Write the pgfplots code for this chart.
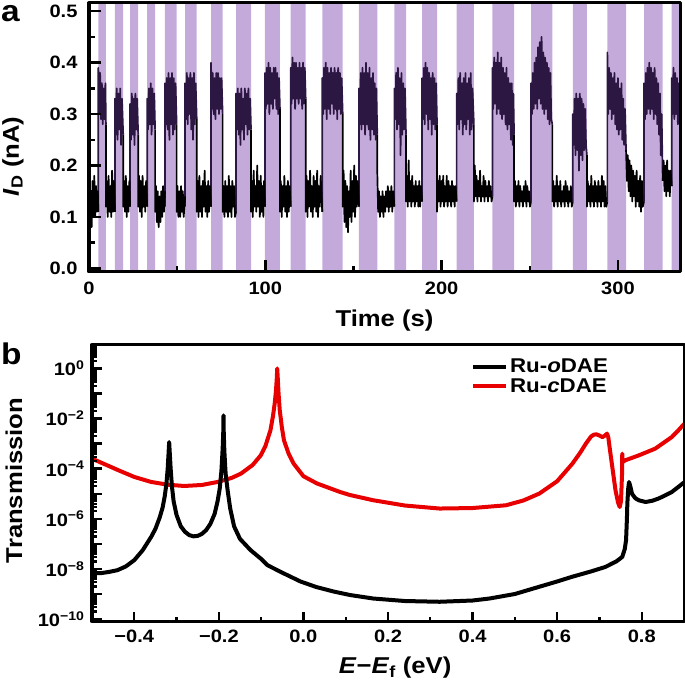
\documentclass[border=0pt]{standalone}
\usepackage{fontspec}
\setmainfont{Liberation Sans}[FakeStretch=1.12]
\usepackage{pgfplots}
\pgfplotsset{compat=1.18}

\definecolor{lav}{RGB}{196,170,218}
\definecolor{plum}{RGB}{44,22,66}
\definecolor{rred}{RGB}{232,0,0}

% minor log ticks 2..9 in every decade
\def\logminor{}
\foreach \e in {-11,...,0}{\foreach \m in {2,...,9}{\xdef\logminor{\logminor\m e\e,}}}
\xdef\logminor{\logminor 1e-11}

\pgfplotsset{
  panel/.style={
    scale only axis, anchor=south west, axis on top,
    axis line style={line width=3bp},
    tick align=inside, xtick pos=bottom, ytick pos=left,
    major tick length=12bp, minor tick length=6bp,
    every tick/.style={line width=2.4bp, black},
    tick label style={font=\fontsize{18}{20}\selectfont\bfseries},
    label style={font=\fontsize{23}{26}\selectfont\bfseries},
  }
}

\begin{document}
\begin{tikzpicture}
\useasboundingbox (0,0) rectangle (685bp,691bp);

% ---------------- panel a
\begin{axis}[panel, at={(89bp,419bp)}, width=591bp, height=269bp,
  xmin=0, xmax=335.2, ymin=-0.007, ymax=0.516,
  xtick={0,100,200,300}, xticklabels={0,100,200,300},
  minor xtick={50,150,250},
  ytick={0,0.1,0.2,0.3,0.4,0.5}, yticklabels={0.0,0.1,0.2,0.3,0.4,0.5},
  minor ytick={0.05,0.15,0.25,0.35,0.45},
  xticklabel style={yshift=-6bp}, yticklabel style={xshift=-8bp},
  xlabel={Time (s)}, ylabel={\textit{I}\textsubscript{D} (nA)},
  xlabel style={at={(axis description cs:0.5,-0.182)}, anchor=center},
  ylabel style={at={(axis description cs:-0.1286,0.43)}, anchor=center},
  unbounded coords=jump, line join=round]
% light-on bands
\addplot[fill=lav, draw=none] coordinates {
(5.3,-1)(5.3,1)(9.6,1)(9.6,-1)(14.7,-1)(14.7,1)(19.4,1)(19.4,-1)
(23.3,-1)(23.3,1)(27.9,1)(27.9,-1)(33.0,-1)(33.0,1)(37.5,1)(37.5,-1)
(43.1,-1)(43.1,1)(49.7,1)(49.7,-1)(54.5,-1)(54.5,1)(61.1,1)(61.1,-1)
(69.2,-1)(69.2,1)(75.8,1)(75.8,-1)(83.4,-1)(83.4,1)(91.9,1)(91.9,-1)
(99.8,-1)(99.8,1)(108.3,1)(108.3,-1)(114.4,-1)(114.4,1)(122.9,1)(122.9,-1)
(132.3,-1)(132.3,1)(143.9,1)(143.9,-1)(153.1,-1)(153.1,1)(163.5,1)(163.5,-1)
(173.2,-1)(173.2,1)(179.8,1)(179.8,-1)(188.9,-1)(188.9,1)(197.4,1)(197.4,-1)
(208.5,-1)(208.5,1)(218.3,1)(218.3,-1)(228.8,-1)(228.8,1)(241.1,1)(241.1,-1)
(250.7,-1)(250.7,1)(262.8,1)(262.8,-1)(274.4,-1)(274.4,1)(282.4,1)(282.4,-1)
(294.0,-1)(294.0,1)(304.6,1)(304.6,-1)(314.8,-1)(314.8,1)(325.4,1)(325.4,-1)
(330.5,-1)(330.5,1)(340,1)(340,-1)};
% high-current state
\addplot[plum, line width=1.7bp] coordinates {
(5.3,0.11)(5.3,0.39)(5.8,0.30)(6.3,0.38)(6.8,0.29)(7.3,0.36)(7.8,0.28)(8.3,0.35)(8.8,0.29)(9.3,0.36)(9.6,0.28)(9.7,nan)
(14.7,0.11)(14.7,0.33)(15.2,0.26)(15.7,0.35)(16.2,0.25)(16.7,0.34)(17.2,0.27)(17.7,0.35)(18.2,0.24)(18.7,0.33)(19.4,0.26)(19.5,nan)
(23.3,0.12)(23.3,0.32)(23.8,0.25)(24.3,0.34)(24.8,0.26)(25.3,0.33)(25.8,0.24)(26.3,0.34)(26.8,0.27)(27.3,0.33)(27.9,0.26)(28.0,nan)
(33.0,0.12)(33.0,0.33)(33.5,0.27)(34.0,0.35)(34.5,0.28)(35.0,0.36)(35.5,0.26)(36.0,0.35)(36.5,0.28)(37.0,0.34)(37.5,0.27)(37.6,nan)
(43.1,0.12)(43.1,0.36)(43.6,0.28)(44.1,0.37)(44.6,0.27)(45.1,0.38)(45.6,0.25)(46.1,0.37)(46.6,0.28)(47.1,0.38)(47.6,0.26)(48.1,0.37)(48.6,0.27)(49.1,0.36)(49.7,0.28)(49.8,nan)
(54.5,0.12)(54.5,0.36)(55.0,0.29)(55.5,0.38)(56.0,0.28)(56.5,0.37)(57.0,0.30)(57.5,0.38)(58.0,0.27)(58.5,0.37)(59.0,0.25)(59.5,0.38)(60.0,0.28)(60.5,0.36)(61.1,0.29)(61.2,nan)
(69.2,0.12)(69.2,0.40)(69.7,0.31)(70.2,0.38)(70.7,0.30)(71.2,0.37)(71.7,0.29)(72.2,0.38)(72.7,0.31)(73.2,0.38)(73.7,0.30)(74.2,0.37)(74.7,0.31)(75.2,0.37)(75.8,0.30)(75.9,nan)
(83.4,0.11)(83.4,0.34)(83.9,0.27)(84.4,0.35)(84.9,0.26)(85.4,0.34)(85.9,0.24)(86.4,0.35)(86.9,0.27)(87.4,0.33)(87.9,0.25)(88.4,0.35)(88.9,0.28)(89.4,0.34)(89.9,0.26)(90.4,0.35)(90.9,0.27)(91.4,0.33)(91.9,0.27)(92.0,nan)
(99.8,0.12)(99.8,0.38)(100.3,0.31)(100.8,0.39)(101.3,0.32)(101.8,0.40)(102.3,0.30)(102.8,0.39)(103.3,0.32)(103.8,0.38)(104.3,0.31)(104.8,0.39)(105.3,0.33)(105.8,0.39)(106.3,0.31)(106.8,0.38)(107.3,0.30)(107.8,0.37)(108.3,0.31)(108.4,nan)
(114.4,0.12)(114.4,0.39)(114.9,0.32)(115.4,0.41)(115.9,0.33)(116.4,0.40)(116.9,0.31)(117.4,0.40)(117.9,0.33)(118.4,0.39)(118.9,0.32)(119.4,0.40)(119.9,0.33)(120.4,0.39)(120.9,0.31)(121.4,0.40)(121.9,0.32)(122.4,0.39)(122.9,0.33)(123.0,nan)
(132.3,0.11)(132.3,0.37)(132.8,0.30)(133.3,0.39)(133.8,0.31)(134.3,0.40)(134.8,0.29)(135.3,0.39)(135.8,0.31)(136.3,0.38)(136.8,0.30)(137.3,0.39)(137.8,0.32)(138.3,0.38)(138.8,0.30)(139.3,0.39)(139.8,0.31)(140.3,0.38)(140.8,0.29)(141.3,0.39)(141.8,0.31)(142.3,0.38)(142.8,0.30)(143.3,0.37)(143.9,0.30)(144.0,nan)
(153.1,0.12)(153.1,0.35)(153.6,0.28)(154.1,0.38)(154.6,0.27)(155.1,0.39)(155.6,0.28)(156.1,0.38)(156.6,0.26)(157.1,0.40)(157.6,0.28)(158.1,0.38)(158.6,0.27)(159.1,0.39)(159.6,0.25)(160.1,0.37)(160.6,0.27)(161.1,0.38)(161.6,0.26)(162.1,0.36)(162.6,0.25)(163.0,0.35)(163.5,0.26)(163.6,nan)
(173.2,0.12)(173.2,0.35)(173.7,0.29)(174.2,0.38)(174.7,0.27)(175.2,0.39)(175.7,0.28)(176.2,0.37)(176.7,0.22)(177.2,0.38)(177.7,0.26)(178.2,0.36)(178.7,0.27)(179.2,0.35)(179.8,0.26)(179.9,nan)
(188.9,0.13)(188.9,0.37)(189.4,0.29)(189.9,0.39)(190.4,0.28)(190.9,0.40)(191.4,0.30)(191.9,0.39)(192.4,0.27)(192.9,0.38)(193.4,0.29)(193.9,0.37)(194.4,0.26)(194.9,0.38)(195.4,0.28)(195.9,0.37)(196.4,0.27)(196.9,0.36)(197.4,0.28)(197.5,nan)
(208.5,0.13)(208.5,0.34)(209.0,0.28)(209.5,0.37)(210.0,0.27)(210.5,0.38)(211.0,0.29)(211.5,0.36)(212.0,0.26)(212.5,0.37)(213.0,0.28)(213.5,0.38)(214.0,0.27)(214.5,0.36)(215.0,0.29)(215.5,0.37)(216.0,0.26)(216.5,0.38)(217.0,0.27)(217.5,0.35)(218.3,0.28)(218.4,nan)
(228.8,0.14)(228.8,0.39)(229.3,0.31)(229.8,0.41)(230.3,0.32)(230.8,0.40)(231.3,0.30)(231.8,0.42)(232.3,0.31)(232.8,0.40)(233.3,0.30)(233.8,0.41)(234.3,0.29)(234.8,0.39)(235.3,0.30)(235.8,0.38)(236.3,0.28)(236.8,0.39)(237.3,0.27)(237.8,0.37)(238.3,0.28)(238.8,0.36)(239.3,0.25)(239.8,0.36)(240.3,0.24)(240.7,0.34)(241.1,0.26)(241.2,nan)
(250.7,0.13)(250.7,0.36)(251.2,0.30)(251.7,0.38)(252.2,0.31)(252.7,0.40)(253.2,0.32)(253.7,0.41)(254.2,0.31)(254.7,0.43)(255.2,0.33)(255.7,0.44)(256.2,0.32)(256.7,0.45)(257.2,0.31)(257.7,0.42)(258.2,0.30)(258.7,0.41)(259.2,0.31)(259.7,0.40)(260.2,0.29)(260.7,0.39)(261.2,0.28)(261.7,0.38)(262.2,0.29)(262.8,0.28)(262.9,nan)
(274.4,0.13)(274.4,0.30)(274.9,0.24)(275.4,0.33)(275.9,0.22)(276.4,0.34)(276.9,0.23)(277.4,0.33)(277.9,0.19)(278.4,0.34)(278.9,0.22)(279.4,0.33)(279.9,0.21)(280.4,0.32)(280.9,0.23)(281.4,0.31)(281.9,0.24)(282.4,0.22)(282.5,nan)
(294.0,0.13)(294.0,0.42)(294.5,0.30)(295.0,0.39)(295.5,0.31)(296.0,0.38)(296.5,0.29)(297.0,0.37)(297.5,0.30)(298.0,0.38)(298.5,0.28)(299.0,0.36)(299.5,0.27)(300.0,0.37)(300.5,0.26)(301.0,0.35)(301.5,0.27)(302.0,0.36)(302.5,0.25)(303.0,0.33)(303.5,0.24)(304.0,0.31)(304.6,0.23)(304.7,nan)
(314.8,0.13)(314.8,0.36)(315.3,0.29)(315.8,0.38)(316.3,0.30)(316.8,0.39)(317.3,0.31)(317.8,0.40)(318.3,0.30)(318.8,0.39)(319.3,0.31)(319.8,0.38)(320.3,0.29)(320.8,0.39)(321.3,0.30)(321.8,0.37)(322.3,0.28)(322.8,0.36)(323.3,0.26)(323.8,0.34)(324.3,0.22)(324.8,0.30)(325.4,0.17)(325.5,nan)
(330.5,0.16)(330.5,0.37)(331.0,0.30)(331.5,0.39)(332.0,0.29)(332.5,0.38)(333.0,0.30)(333.5,0.37)(334.0,0.28)(334.5,0.36)(335.0,0.30)};
% low-current state
\addplot[black, line width=1.7bp] coordinates {
(0.0,0.12)(0.5,0.06)(1.0,0.15)(1.5,0.08)(2.0,0.17)(2.5,0.10)(3.0,0.18)(3.5,0.10)(4.0,0.16)(4.5,0.11)(5.0,0.15)(5.3,0.11)(5.4,nan)
(9.6,0.28)(9.6,0.12)(10.1,0.17)(10.6,0.10)(11.1,0.18)(11.6,0.11)(12.1,0.16)(12.6,0.10)(13.1,0.19)(13.6,0.11)(14.1,0.17)(14.7,0.11)(14.8,nan)
(19.4,0.26)(19.4,0.12)(19.9,0.17)(20.4,0.11)(20.9,0.18)(21.4,0.10)(21.9,0.16)(22.4,0.11)(22.9,0.17)(23.3,0.12)(23.4,nan)
(27.9,0.26)(27.9,0.12)(28.4,0.18)(28.9,0.11)(29.4,0.17)(29.9,0.10)(30.4,0.18)(30.9,0.12)(31.4,0.16)(31.9,0.11)(32.4,0.17)(33.0,0.12)(33.1,nan)
(37.5,0.27)(37.5,0.11)(38.0,0.16)(38.5,0.09)(39.0,0.15)(39.5,0.08)(40.0,0.14)(40.5,0.09)(41.0,0.15)(41.5,0.10)(42.0,0.16)(42.5,0.11)(43.1,0.15)(43.2,nan)
(49.7,0.28)(49.7,0.11)(50.2,0.16)(50.7,0.10)(51.2,0.15)(51.7,0.10)(52.2,0.16)(52.7,0.11)(53.2,0.15)(53.7,0.10)(54.5,0.14)(54.6,nan)
(61.1,0.29)(61.1,0.11)(61.6,0.17)(62.1,0.10)(62.6,0.18)(63.1,0.11)(63.6,0.16)(64.1,0.10)(64.6,0.17)(65.1,0.12)(65.6,0.19)(66.1,0.11)(66.6,0.16)(67.1,0.10)(67.6,0.17)(68.1,0.11)(68.6,0.16)(69.2,0.12)(69.3,nan)
(75.8,0.30)(75.8,0.11)(76.3,0.16)(76.8,0.10)(77.3,0.17)(77.8,0.11)(78.3,0.16)(78.8,0.10)(79.3,0.18)(79.8,0.11)(80.3,0.16)(80.8,0.10)(81.3,0.17)(81.8,0.12)(82.3,0.16)(82.8,0.10)(83.4,0.11)(83.5,nan)
(91.9,0.27)(91.9,0.11)(92.4,0.17)(92.9,0.10)(93.4,0.19)(93.9,0.12)(94.4,0.16)(94.9,0.11)(95.4,0.20)(95.9,0.12)(96.4,0.17)(96.9,0.10)(97.4,0.18)(97.9,0.11)(98.4,0.16)(98.9,0.10)(99.3,0.17)(99.8,0.12)(99.9,nan)
(108.3,0.31)(108.3,0.11)(108.8,0.17)(109.3,0.10)(109.8,0.16)(110.3,0.12)(110.8,0.18)(111.3,0.11)(111.8,0.16)(112.3,0.10)(112.8,0.17)(113.3,0.11)(113.8,0.16)(114.4,0.12)(114.5,nan)
(122.9,0.33)(122.9,0.11)(123.4,0.18)(123.9,0.10)(124.4,0.17)(124.9,0.12)(125.4,0.19)(125.9,0.11)(126.4,0.16)(126.9,0.10)(127.4,0.18)(127.9,0.12)(128.4,0.17)(128.9,0.11)(129.4,0.19)(129.9,0.10)(130.4,0.16)(130.9,0.12)(131.4,0.18)(132.3,0.11)(132.4,nan)
(143.9,0.30)(143.9,0.12)(144.4,0.19)(144.9,0.09)(145.4,0.17)(145.9,0.08)(146.4,0.16)(146.9,0.07)(147.4,0.15)(147.9,0.10)(148.4,0.19)(148.9,0.09)(149.4,0.17)(149.9,0.11)(150.4,0.20)(150.9,0.10)(151.4,0.18)(151.9,0.12)(152.4,0.17)(153.1,0.12)(153.2,nan)
(163.5,0.26)(163.5,0.19)(164.0,0.11)(164.5,0.15)(165.0,0.10)(165.5,0.14)(166.0,0.11)(166.5,0.15)(167.0,0.10)(167.5,0.14)(168.0,0.11)(168.5,0.15)(169.0,0.12)(169.5,0.16)(170.0,0.11)(170.5,0.15)(171.0,0.12)(171.5,0.16)(172.0,0.11)(172.5,0.15)(173.2,0.12)(173.3,nan)
(179.8,0.26)(179.8,0.13)(180.3,0.18)(180.8,0.12)(181.3,0.21)(181.8,0.13)(182.3,0.17)(182.8,0.12)(183.3,0.18)(183.8,0.13)(184.3,0.16)(184.8,0.12)(185.3,0.17)(185.8,0.13)(186.3,0.16)(186.8,0.12)(187.3,0.17)(187.8,0.12)(188.3,0.16)(188.9,0.13)(189.0,nan)
(197.4,0.28)(197.4,0.11)(197.9,0.17)(198.4,0.13)(198.9,0.18)(199.4,0.12)(199.9,0.17)(200.4,0.13)(200.9,0.18)(201.4,0.12)(201.9,0.16)(202.4,0.13)(202.9,0.18)(203.4,0.12)(203.9,0.17)(204.4,0.13)(204.9,0.16)(205.4,0.12)(205.9,0.17)(206.4,0.13)(206.9,0.16)(207.4,0.12)(207.9,0.16)(208.5,0.13)(208.6,nan)
(218.3,0.28)(218.3,0.13)(218.8,0.20)(219.3,0.14)(219.8,0.18)(220.3,0.13)(220.8,0.17)(221.3,0.14)(221.8,0.19)(222.3,0.13)(222.8,0.16)(223.3,0.14)(223.8,0.18)(224.3,0.13)(224.8,0.17)(225.3,0.14)(225.8,0.16)(226.3,0.13)(226.8,0.17)(227.3,0.14)(227.8,0.16)(228.3,0.13)(228.8,0.14)(228.9,nan)
(241.1,0.26)(241.1,0.13)(241.6,0.17)(242.1,0.12)(242.6,0.16)(243.1,0.13)(243.6,0.17)(244.1,0.12)(244.6,0.16)(245.1,0.13)(245.6,0.15)(246.1,0.12)(246.6,0.16)(247.1,0.13)(247.6,0.17)(248.1,0.12)(248.6,0.16)(249.1,0.13)(249.6,0.15)(250.1,0.12)(250.7,0.13)(250.8,nan)
(262.8,0.28)(262.8,0.13)(263.3,0.17)(263.8,0.12)(264.3,0.16)(264.8,0.13)(265.3,0.18)(265.8,0.12)(266.3,0.16)(266.8,0.13)(267.3,0.17)(267.8,0.12)(268.3,0.15)(268.8,0.13)(269.3,0.16)(269.8,0.12)(270.3,0.17)(270.8,0.13)(271.3,0.16)(271.8,0.12)(272.3,0.15)(272.8,0.13)(273.3,0.16)(273.8,0.12)(274.4,0.13)(274.5,nan)
(282.4,0.22)(282.4,0.12)(282.9,0.17)(283.4,0.13)(283.9,0.16)(284.4,0.12)(284.9,0.18)(285.4,0.13)(285.9,0.16)(286.4,0.12)(286.9,0.17)(287.4,0.13)(287.9,0.16)(288.4,0.12)(288.9,0.17)(289.4,0.13)(289.9,0.16)(290.4,0.12)(290.9,0.18)(291.4,0.13)(291.9,0.17)(292.4,0.12)(292.9,0.16)(293.4,0.12)(294.0,0.13)(294.1,nan)
(304.6,0.23)(305.1,0.17)(305.6,0.22)(306.1,0.15)(306.6,0.21)(307.1,0.14)(307.6,0.20)(308.1,0.13)(308.6,0.19)(309.1,0.14)(309.6,0.18)(310.1,0.12)(310.6,0.19)(311.1,0.13)(311.6,0.17)(312.1,0.12)(312.6,0.18)(313.1,0.11)(313.6,0.17)(314.1,0.12)(314.8,0.13)(314.9,nan)
(325.4,0.17)(325.9,0.21)(326.4,0.15)(326.9,0.20)(327.4,0.14)(327.9,0.21)(328.4,0.15)(328.9,0.19)(329.4,0.14)(329.9,0.19)(330.5,0.16)};
\end{axis}
\node[anchor=base west, inner sep=0, font=\fontsize{30}{30}\selectfont\bfseries] at (1bp,669bp) {a};

% ---------------- panel b
\begin{axis}[panel, at={(92bp,69.5bp)}, width=592bp, height=277bp,
  ymode=log, xmin=-0.5, xmax=0.9, ymin=8e-11, ymax=9,
  xtick={-0.4,-0.2,0,0.2,0.4,0.6,0.8},
  xticklabels={−0.4,−0.2,0.0,0.2,0.4,0.6,0.8},
  minor xtick={-0.3,-0.1,0.1,0.3,0.5,0.7},
  ytick={1e-10,1e-9,1e-8,1e-7,1e-6,1e-5,1e-4,1e-3,1e-2,1e-1,1},
  yticklabels={10\textsuperscript{−10},,10\textsuperscript{−8},,10\textsuperscript{−6},,10\textsuperscript{−4},,10\textsuperscript{−2},,10\textsuperscript{0}},
  minor ytick/.expand once=\logminor,
  major tick length=10bp, minor tick length=5bp,
  xticklabel style={yshift=-5bp}, yticklabel style={xshift=-4bp},
  xlabel={\textit{E}−\textit{E}\textsubscript{f} (eV)}, ylabel={Transmission},
  xlabel style={at={(axis description cs:0.512,-0.168)}, anchor=center},
  ylabel style={at={(axis description cs:-0.132,0.509)}, anchor=center},
  legend style={at={(axis description cs:0.64,0.955)}, anchor=north west,
    draw=none, fill=none, inner sep=0bp, row sep=0bp,
    font=\fontsize{20}{22}\selectfont\bfseries},
  legend cell align=left,
  legend image code/.code={\draw[#1] (0bp,0bp) -- (33bp,0bp);},
  line join=round]
\addlegendimage{black, line width=4bp}
\addlegendentry{Ru-\textit{o}DAE}
\addlegendimage{rred, line width=4bp}
\addlegendentry{Ru-\textit{c}DAE}
% Ru-cDAE
\addplot[rred, line width=4bp, forget plot] coordinates {
(-0.50,2.51e-4)(-0.47,1.51e-4)(-0.438,8.71e-5)(-0.40,4.68e-5)(-0.36,2.95e-5)
(-0.32,2.29e-5)(-0.282,2.04e-5)(-0.24,2.24e-5)(-0.203,2.95e-5)(-0.17,4.27e-5)
(-0.148,6.31e-5)(-0.12,1.41e-4)(-0.101,3.39e-4)(-0.09,7.94e-4)(-0.078,3.39e-3)
(-0.072,1.26e-2)(-0.068,3.89e-2)(-0.065,0.126)(-0.063,0.398)(-0.062,1.0)
(-0.0605,0.355)(-0.059,0.112)(-0.056,2.14e-2)(-0.051,4.47e-3)(-0.046,1.35e-3)
(-0.035,3.98e-4)(-0.023,1.58e-4)(0.0,5.01e-5)(0.032,2.57e-5)(0.087,1.17e-5)
(0.11,8.91e-6)(0.165,5.50e-6)(0.24,3.39e-6)(0.322,2.57e-6)(0.40,2.69e-6)
(0.479,3.47e-6)(0.52,5.37e-6)(0.558,1.02e-5)(0.60,3.16e-5)(0.636,1.58e-4)
(0.655,4.47e-4)(0.668,1.0e-3)(0.68,1.91e-3)(0.687,2.29e-3)(0.693,2.34e-3)
(0.699,2.14e-3)(0.707,1.82e-3)(0.713,2.09e-3)(0.718,2.51e-3)(0.721,1.78e-3)
(0.724,7.24e-4)(0.731,1.0e-4)(0.738,1.38e-5)(0.744,4.47e-6)(0.748,2.95e-6)
(0.751,5.01e-6)(0.7535,6.31e-5)(0.754,3.98e-4)(0.755,1.86e-4)(0.762,2.19e-4)
(0.793,3.39e-4)(0.832,6.31e-4)(0.871,1.82e-3)(0.885,3.16e-3)(0.90,6.03e-3)};
% Ru-oDAE
\addplot[black, line width=4bp, forget plot] coordinates {
(-0.50,7.08e-9)(-0.48,6.76e-9)(-0.46,7.59e-9)(-0.44,8.91e-9)(-0.42,1.26e-8)
(-0.40,2.24e-8)(-0.38,5.62e-8)(-0.36,1.91e-7)(-0.35,3.98e-7)(-0.34,1.12e-6)
(-0.333,2.82e-6)(-0.328,7.94e-6)(-0.324,2.51e-5)(-0.321,1.0e-4)(-0.319,3.98e-4)
(-0.3175,1.15e-3)(-0.316,3.98e-4)(-0.314,1.0e-4)(-0.311,2.0e-5)(-0.307,5.01e-6)
(-0.30,1.41e-6)(-0.29,5.01e-7)(-0.28,3.02e-7)(-0.27,2.24e-7)(-0.26,2.0e-7)
(-0.25,2.09e-7)(-0.24,2.51e-7)(-0.23,3.55e-7)(-0.22,6.31e-7)(-0.21,1.58e-6)
(-0.203,5.01e-6)(-0.198,1.58e-5)(-0.194,7.94e-5)(-0.191,6.31e-4)(-0.1895,3.16e-3)
(-0.189,1.35e-2)(-0.1885,3.16e-3)(-0.187,5.01e-4)(-0.184,6.31e-5)(-0.179,1.26e-5)
(-0.173,2.51e-6)(-0.164,5.01e-7)(-0.15,1.58e-7)(-0.125,5.62e-8)(-0.10,2.51e-8)
(-0.085,1.41e-8)(-0.05,7.08e-9)(-0.007,3.16e-9)(0.03,1.91e-9)(0.071,1.26e-9)
(0.11,9.12e-10)(0.165,6.61e-10)(0.24,5.25e-10)(0.322,4.90e-10)(0.40,5.50e-10)
(0.44,6.61e-10)(0.50,1.0e-9)(0.558,1.95e-9)(0.60,3.16e-9)(0.636,4.90e-9)
(0.68,7.94e-9)(0.714,1.20e-8)(0.74,2.0e-8)(0.754,3.02e-8)(0.760,6.31e-8)
(0.763,1.41e-7)(0.765,1.0e-6)(0.766,3.98e-6)(0.768,1.58e-5)(0.770,2.95e-5)
(0.773,2.0e-5)(0.777,1.0e-5)(0.785,6.61e-6)(0.793,5.50e-6)(0.809,4.68e-6)
(0.825,5.25e-6)(0.84,6.46e-6)(0.855,8.51e-6)(0.871,1.17e-5)(0.885,1.78e-5)
(0.90,2.82e-5)};
\end{axis}
\node[anchor=base west, inner sep=0, font=\fontsize{30}{30}\selectfont\bfseries] at (1bp,326bp) {b};
\end{tikzpicture}
\end{document}
